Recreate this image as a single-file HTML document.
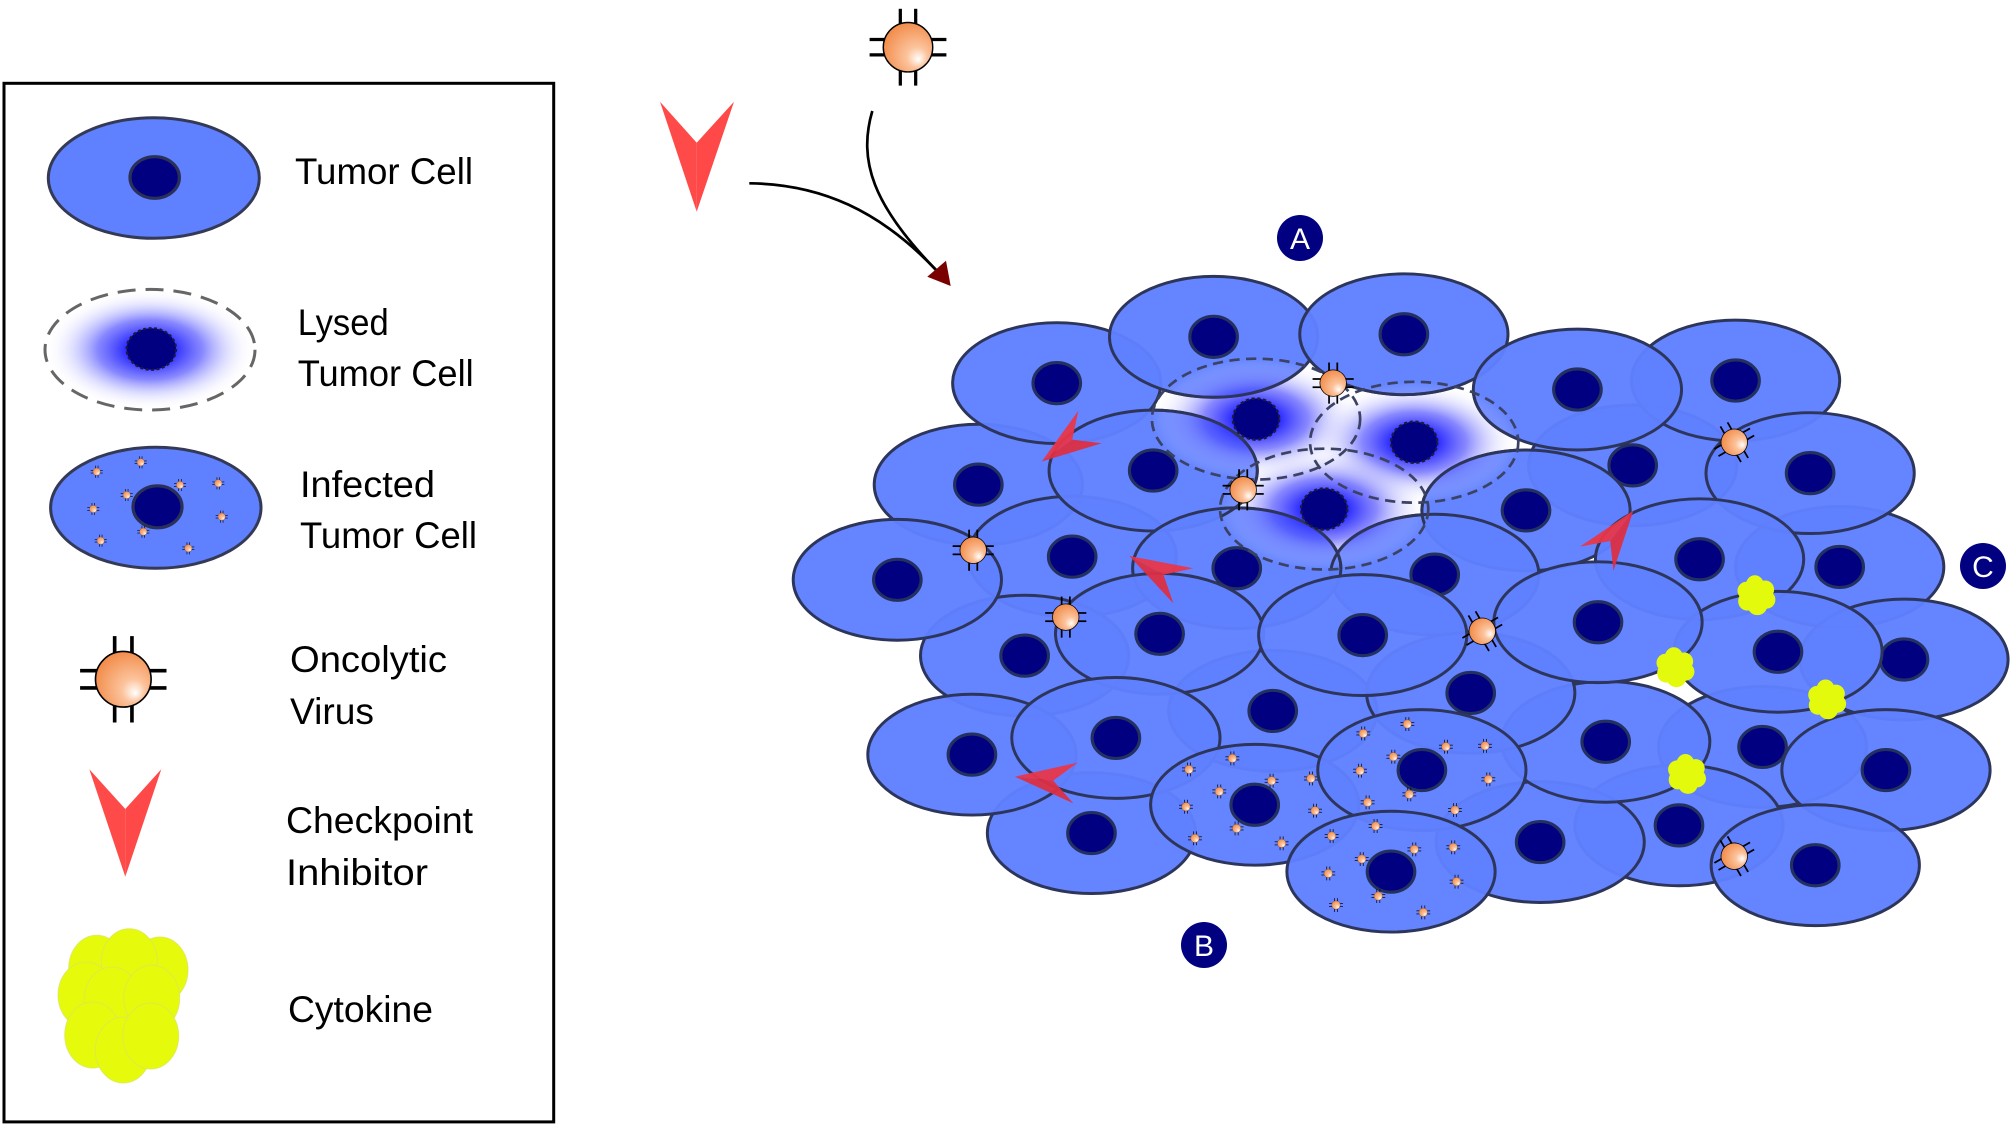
<!DOCTYPE html>
<html>
<head>
<meta charset="utf-8">
<style>
html,body{margin:0;padding:0;background:#fff}
svg{display:block}
.t{font-family:"Liberation Sans",Arial,sans-serif;font-size:37px;fill:#000}
.lbl{font-family:"Liberation Sans",Arial,sans-serif;font-size:30px;fill:#fff;text-anchor:middle}
.c{fill:#5f80ff;fill-opacity:.965;stroke:#2d355a;stroke-width:2.3}
.n{fill:#000080;stroke:#24305e;stroke-width:2.4}
.o{fill:none;stroke:#2d355a;stroke-width:2.3}
.ld{fill:none;stroke:#3b4263;stroke-width:2.1;stroke-dasharray:8 5}
.ln{fill:#000080;stroke:#1a1a40;stroke-width:1.8;stroke-dasharray:2.5 2}
.r1{fill:#e8364a;fill-opacity:.95}
.r2{fill:#dc2e43;fill-opacity:.95}
</style>
</head>
<body>
<svg width="2012" height="1133" viewBox="0 0 2012 1133" xmlns="http://www.w3.org/2000/svg">
<defs>
  <radialGradient id="vg" cx="0.6" cy="0.6" r="0.7" fx="0.72" fy="0.75">
    <stop offset="0" stop-color="#ffffff"/>
    <stop offset="0.3" stop-color="#fcc39c"/>
    <stop offset="1" stop-color="#f0843e"/>
  </radialGradient>
  <radialGradient id="lg">
    <stop offset="0" stop-color="#1212ff" stop-opacity="1"/>
    <stop offset="0.22" stop-color="#1f1fff" stop-opacity="0.95"/>
    <stop offset="0.5" stop-color="#5050ff" stop-opacity="0.68"/>
    <stop offset="0.75" stop-color="#a0a0ff" stop-opacity="0.3"/>
    <stop offset="1" stop-color="#ffffff" stop-opacity="0"/>
  </radialGradient>
  <g id="v">
    <g stroke="#000" stroke-width="1.35">
      <line x1="-3.2" y1="-8" x2="-3.2" y2="-16"/>
      <line x1="3.2" y1="-8" x2="3.2" y2="-16"/>
      <line x1="-3.2" y1="8" x2="-3.2" y2="16"/>
      <line x1="3.2" y1="8" x2="3.2" y2="16"/>
      <line x1="-8" y1="-3.2" x2="-16" y2="-3.2"/>
      <line x1="-8" y1="3.2" x2="-16" y2="3.2"/>
      <line x1="8" y1="-3.2" x2="16" y2="-3.2"/>
      <line x1="8" y1="3.2" x2="16" y2="3.2"/>
    </g>
    <circle r="10.3" fill="url(#vg)" stroke="#000" stroke-width="0.6"/>
  </g>
  <g id="sv">
    <g stroke="#000" stroke-width="0.55">
      <line x1="-1.2" y1="-2.5" x2="-1.2" y2="-5.4"/>
      <line x1="1.2" y1="-2.5" x2="1.2" y2="-5.4"/>
      <line x1="-1.2" y1="2.5" x2="-1.2" y2="5.4"/>
      <line x1="1.2" y1="2.5" x2="1.2" y2="5.4"/>
      <line x1="-2.5" y1="-1.2" x2="-5.4" y2="-1.2"/>
      <line x1="-2.5" y1="1.2" x2="-5.4" y2="1.2"/>
      <line x1="2.5" y1="-1.2" x2="5.4" y2="-1.2"/>
      <line x1="2.5" y1="1.2" x2="5.4" y2="1.2"/>
    </g>
    <circle r="3.3" fill="url(#vg)" stroke="#7a4a2a" stroke-width="0.3"/>
  </g>
  <g id="cy" fill="#e4fa0c">
    <ellipse cx="0" cy="0" rx="8" ry="8"/>
    <ellipse cx="-1" cy="-8" rx="7" ry="7.5"/>
    <ellipse cx="7" cy="-4.5" rx="7" ry="7"/>
    <ellipse cx="8" cy="3.5" rx="7" ry="7"/>
    <ellipse cx="1" cy="8.5" rx="7.5" ry="7"/>
    <ellipse cx="-7" cy="4.5" rx="7" ry="7.5"/>
    <ellipse cx="-7.5" cy="-3.5" rx="7" ry="7"/>
  </g>
  <clipPath id="lc">
    <ellipse cx="977" cy="326" rx="81" ry="47"/>
    <ellipse cx="1100" cy="344" rx="81" ry="47"/>
    <ellipse cx="1030" cy="396" rx="81" ry="47"/>
  </clipPath>
</defs>

<!-- Legend box -->
<rect x="4" y="83.3" width="549.7" height="1038.6" fill="none" stroke="#000" stroke-width="3"/>

<!-- Legend: tumor cell -->
<ellipse cx="153.8" cy="178" rx="105.5" ry="60.3" fill="#5f80ff" stroke="#343a55" stroke-width="3"/>
<ellipse cx="154.7" cy="177.5" rx="24.7" ry="20.8" fill="#000080" stroke="#2a3058" stroke-width="3.2"/>
<text class="t" x="295" y="184" textLength="178" lengthAdjust="spacingAndGlyphs">Tumor Cell</text>

<!-- Legend: lysed -->
<ellipse cx="150" cy="349.7" rx="105" ry="60.3" fill="url(#lg)"/>
<ellipse cx="150" cy="349.7" rx="105" ry="60.3" fill="none" stroke="#666" stroke-width="3" stroke-dasharray="18 10"/>
<ellipse cx="151.3" cy="349" rx="24.7" ry="20.8" fill="#000080" stroke="#1a1a40" stroke-width="2.2" stroke-dasharray="3 2.5"/>
<text class="t" x="297.7" y="335" textLength="91" lengthAdjust="spacingAndGlyphs">Lysed</text>
<text class="t" x="297.7" y="386" textLength="176" lengthAdjust="spacingAndGlyphs">Tumor Cell</text>

<!-- Legend: infected -->
<ellipse cx="155.8" cy="507.8" rx="105.2" ry="60.5" fill="#5f80ff" stroke="#343a55" stroke-width="3"/>
<ellipse cx="157.5" cy="506.8" rx="24.5" ry="21" fill="#000080" stroke="#2a3058" stroke-width="3.2"/>
<use href="#sv" transform="translate(96.7,471.7) scale(1.12)"/>
<use href="#sv" transform="translate(140.7,462.3) scale(1.12)"/>
<use href="#sv" transform="translate(180,485) scale(1.12)"/>
<use href="#sv" transform="translate(218.3,483.3) scale(1.12)"/>
<use href="#sv" transform="translate(126.7,495) scale(1.12)"/>
<use href="#sv" transform="translate(93.3,509) scale(1.12)"/>
<use href="#sv" transform="translate(221.7,516.7) scale(1.12)"/>
<use href="#sv" transform="translate(143.3,531.7) scale(1.12)"/>
<use href="#sv" transform="translate(100.7,540.7) scale(1.12)"/>
<use href="#sv" transform="translate(188.3,548.3) scale(1.12)"/>
<text class="t" x="300" y="497" textLength="135" lengthAdjust="spacingAndGlyphs">Infected</text>
<text class="t" x="300" y="548" textLength="177" lengthAdjust="spacingAndGlyphs">Tumor Cell</text>

<!-- Legend: virus -->
<use href="#v" transform="translate(123.3,679.3) scale(2.7)"/>
<text class="t" x="290" y="672" textLength="157" lengthAdjust="spacingAndGlyphs">Oncolytic</text>
<text class="t" x="290" y="724" textLength="84" lengthAdjust="spacingAndGlyphs">Virus</text>

<!-- Legend: checkpoint inhibitor -->
<polygon points="89.3,769.3 125.3,809 125.3,876.7" fill="#ff4a4a"/>
<polygon points="161.3,769.3 125.3,809 125.3,876.7" fill="#ff4848"/>
<text class="t" x="286" y="833" textLength="187" lengthAdjust="spacingAndGlyphs">Checkpoint</text>
<text class="t" x="286" y="885" textLength="142" lengthAdjust="spacingAndGlyphs">Inhibitor</text>

<!-- Legend: cytokine -->
<g fill="#e6fb0b" stroke="#d9e35e" stroke-width="1" stroke-opacity="0.7">
  <ellipse cx="96.7" cy="968.3" rx="28" ry="33"/>
  <ellipse cx="160" cy="970" rx="28" ry="33"/>
  <ellipse cx="129.3" cy="961.7" rx="28" ry="33"/>
  <ellipse cx="86" cy="995" rx="28" ry="33"/>
  <ellipse cx="112" cy="1000" rx="28" ry="33"/>
  <ellipse cx="151.7" cy="998.3" rx="28" ry="33"/>
  <ellipse cx="92.7" cy="1035" rx="28" ry="33"/>
  <ellipse cx="123.3" cy="1050" rx="28" ry="33"/>
  <ellipse cx="150.7" cy="1036" rx="28" ry="33"/>
</g>
<text class="t" x="288" y="1022" textLength="145" lengthAdjust="spacingAndGlyphs">Cytokine</text>

<!-- Top items -->
<polygon points="660,101.7 696.7,142.7 696.7,211.7" fill="#ff4a4a"/>
<polygon points="734,101.7 696.7,142.7 696.7,211.7" fill="#ff4848"/>
<use href="#v" transform="translate(908,47.2) scale(2.4)"/>
<path d="M749.3,183.3 C820,184 880,210 938,272" fill="none" stroke="#000" stroke-width="2.7"/>
<path d="M872.3,111 C858,160 872,205 938,272" fill="none" stroke="#000" stroke-width="2.7"/>
<polygon points="927.3,276.7 946,260.7 950.7,286" fill="#7a0000"/>

<!-- Cluster -->
<g transform="scale(1.2856)">
  <!-- back cells -->
  <ellipse class="c" cx="1270" cy="362" rx="81" ry="47"/><ellipse class="n" cx="1270" cy="362" rx="18.5" ry="16"/>
  <ellipse class="c" cx="1431" cy="441" rx="81" ry="47"/><ellipse class="n" cx="1431" cy="441" rx="18.5" ry="16"/>
  <ellipse class="c" cx="1350" cy="296" rx="81" ry="47"/><ellipse class="n" cx="1350" cy="296" rx="18.5" ry="16"/>
  <ellipse class="c" cx="761" cy="377" rx="81" ry="47"/><ellipse class="n" cx="761" cy="377" rx="18.5" ry="16"/>
  <ellipse class="c" cx="834" cy="433" rx="81" ry="47"/><ellipse class="n" cx="834" cy="433" rx="18.5" ry="16"/>
  <ellipse class="c" cx="990" cy="553" rx="81" ry="47"/><ellipse class="n" cx="990" cy="553" rx="18.5" ry="16"/>
  <ellipse class="c" cx="1371" cy="581" rx="81" ry="47"/><ellipse class="n" cx="1371" cy="581" rx="18.5" ry="16"/>
  <ellipse class="c" cx="1306" cy="642" rx="81" ry="47"/><ellipse class="n" cx="1306" cy="642" rx="18.5" ry="16"/>
  <ellipse class="c" cx="849" cy="648" rx="81" ry="47"/><ellipse class="n" cx="849" cy="648" rx="18.5" ry="16"/>
  <ellipse class="c" cx="1198" cy="655" rx="81" ry="47"/><ellipse class="n" cx="1198" cy="655" rx="18.5" ry="16"/>
  <ellipse class="c" cx="1481" cy="513" rx="81" ry="47"/><ellipse class="n" cx="1481" cy="513" rx="18.5" ry="16"/>
  <!-- middle/front cells -->
  <ellipse class="c" cx="822" cy="298" rx="81" ry="47"/><ellipse class="n" cx="822" cy="298" rx="18.5" ry="16"/>
  <ellipse class="c" cx="944" cy="262" rx="81" ry="47"/><ellipse class="n" cx="944" cy="262" rx="18.5" ry="16"/>
  <ellipse class="c" cx="1092" cy="260" rx="81" ry="47"/><ellipse class="n" cx="1092" cy="260" rx="18.5" ry="16"/>
  <ellipse class="c" cx="1227" cy="303" rx="81" ry="47"/><ellipse class="n" cx="1227" cy="303" rx="18.5" ry="16"/>
  <ellipse class="c" cx="1408" cy="368" rx="81" ry="47"/><ellipse class="n" cx="1408" cy="368" rx="18.5" ry="16"/>
  <ellipse class="c" cx="897" cy="366" rx="81" ry="47"/><ellipse class="n" cx="897" cy="366" rx="18.5" ry="16"/>
  <ellipse class="c" cx="1187" cy="397" rx="81" ry="47"/><ellipse class="n" cx="1187" cy="397" rx="18.5" ry="16"/>
  <ellipse class="c" cx="1116" cy="447" rx="81" ry="47"/><ellipse class="n" cx="1116" cy="447" rx="18.5" ry="16"/>
  <ellipse class="c" cx="962" cy="442" rx="81" ry="47"/><ellipse class="n" cx="962" cy="442" rx="18.5" ry="16"/>
  <ellipse class="c" cx="1322" cy="435" rx="81" ry="47"/><ellipse class="n" cx="1322" cy="435" rx="18.5" ry="16"/>
  <ellipse class="c" cx="797" cy="510" rx="81" ry="47"/><ellipse class="n" cx="797" cy="510" rx="18.5" ry="16"/>
  <ellipse class="c" cx="698" cy="451" rx="81" ry="47"/><ellipse class="n" cx="698" cy="451" rx="18.5" ry="16"/>
  <ellipse class="c" cx="902" cy="493" rx="81" ry="47"/><ellipse class="n" cx="902" cy="493" rx="18.5" ry="16"/>
  <ellipse class="c" cx="1383" cy="507" rx="81" ry="47"/><ellipse class="n" cx="1383" cy="507" rx="18.5" ry="16"/>
  <ellipse class="c" cx="1249" cy="577" rx="81" ry="47"/><ellipse class="n" cx="1249" cy="577" rx="18.5" ry="16"/>
  <ellipse class="c" cx="1144" cy="539" rx="81" ry="47"/><ellipse class="n" cx="1144" cy="539" rx="18.5" ry="16"/>
  <ellipse class="c" cx="1243" cy="484" rx="81" ry="47"/><ellipse class="n" cx="1243" cy="484" rx="18.5" ry="16"/>
  <ellipse class="c" cx="1060" cy="494" rx="81" ry="47"/><ellipse class="n" cx="1060" cy="494" rx="18.5" ry="16"/>
  <ellipse class="c" cx="1467" cy="599" rx="81" ry="47"/><ellipse class="n" cx="1467" cy="599" rx="18.5" ry="16"/>
  <ellipse class="c" cx="756" cy="587" rx="81" ry="47"/><ellipse class="n" cx="756" cy="587" rx="18.5" ry="16"/>
  <ellipse class="c" cx="868" cy="574" rx="81" ry="47"/><ellipse class="n" cx="868" cy="574" rx="18.5" ry="16"/>
  <!-- infected cell 31 -->
  <ellipse class="c" cx="976" cy="626" rx="81" ry="47"/><ellipse class="n" cx="976" cy="626" rx="18.5" ry="16"/>
  <use href="#sv" transform="translate(924.8,598.5)"/>
  <use href="#sv" transform="translate(958.6,589.9)"/>
  <use href="#sv" transform="translate(989.1,607.3)"/>
  <use href="#sv" transform="translate(1019.7,605.5)"/>
  <use href="#sv" transform="translate(948.4,615.6)"/>
  <use href="#sv" transform="translate(1022.9,630.6)"/>
  <use href="#sv" transform="translate(922.5,627.5)"/>
  <use href="#sv" transform="translate(961.9,644.4)"/>
  <use href="#sv" transform="translate(996.9,656)"/>
  <use href="#sv" transform="translate(929.5,652.1)"/>
  <!-- infected cell 32 -->
  <ellipse class="c" cx="1106" cy="599" rx="81" ry="47"/><ellipse class="n" cx="1106" cy="599" rx="18.5" ry="16"/>
  <use href="#sv" transform="translate(1094.7,563.2)"/>
  <use href="#sv" transform="translate(1060.4,570.5)"/>
  <use href="#sv" transform="translate(1124.7,580.8)"/>
  <use href="#sv" transform="translate(1155.1,580.1)"/>
  <use href="#sv" transform="translate(1083.8,588.6)"/>
  <use href="#sv" transform="translate(1057.9,599.5)"/>
  <use href="#sv" transform="translate(1157.7,606.2)"/>
  <use href="#sv" transform="translate(1096.2,617.9)"/>
  <use href="#sv" transform="translate(1063.8,624.1)"/>
  <use href="#sv" transform="translate(1131.7,630.1)"/>
  <!-- infected cell 36 -->
  <ellipse class="c" cx="1082" cy="678" rx="81" ry="47"/><ellipse class="n" cx="1082" cy="678" rx="18.5" ry="16"/>
  <use href="#sv" transform="translate(1070,642.5)"/>
  <use href="#sv" transform="translate(1035.8,650.3)"/>
  <use href="#sv" transform="translate(1100.1,660.7)"/>
  <use href="#sv" transform="translate(1130.4,659.1)"/>
  <use href="#sv" transform="translate(1059.2,668.2)"/>
  <use href="#sv" transform="translate(1033.2,679.4)"/>
  <use href="#sv" transform="translate(1133,685.8)"/>
  <use href="#sv" transform="translate(1072.1,697)"/>
  <use href="#sv" transform="translate(1039.2,704)"/>
  <use href="#sv" transform="translate(1107.1,709.7)"/>
  <!-- cell 35 -->
  <ellipse class="c" cx="1412" cy="673" rx="81" ry="47"/><ellipse class="n" cx="1412" cy="673" rx="18.5" ry="16"/>

  <!-- Lysed cells -->
  <ellipse cx="977" cy="326" rx="81" ry="47" fill="url(#lg)"/>
  <ellipse cx="1100" cy="344" rx="81" ry="47" fill="url(#lg)"/>
  <ellipse cx="1030" cy="396" rx="81" ry="47" fill="url(#lg)"/>
  <g clip-path="url(#lc)">
    <ellipse class="o" cx="944" cy="262" rx="81" ry="47"/>
    <ellipse class="o" cx="1092" cy="260" rx="81" ry="47"/>
    <ellipse class="o" cx="1227" cy="303" rx="81" ry="47"/>
    <ellipse class="o" cx="897" cy="366" rx="81" ry="47"/>
    <ellipse class="o" cx="1187" cy="397" rx="81" ry="47"/>
    <ellipse class="o" cx="1116" cy="447" rx="81" ry="47"/>
    <ellipse class="o" cx="962" cy="442" rx="81" ry="47"/>
  </g>
  <ellipse class="ld" cx="977" cy="326" rx="81" ry="47"/>
  <ellipse class="ld" cx="1100" cy="344" rx="81" ry="47"/>
  <ellipse class="ld" cx="1030" cy="396" rx="81" ry="47"/>
  <ellipse class="ln" cx="977" cy="326" rx="18" ry="16"/>
  <ellipse class="ln" cx="1100" cy="344" rx="18" ry="16"/>
  <ellipse class="ln" cx="1030" cy="396" rx="18" ry="16"/>

  <!-- Checkpoint inhibitors -->
  <polygon class="r1" points="810.3,359 838.8,319.5 834,342"/>
  <polygon class="r2" points="810.3,359 834,342 857,344.8"/>
  <polygon class="r1" points="878.5,432.5 928.2,442 905,447.1"/>
  <polygon class="r2" points="878.5,432.5 905,447.1 912.7,469.3"/>
  <polygon class="r1" points="789.5,604.1 838.3,593.2 819.2,607.2"/>
  <polygon class="r2" points="789.5,604.1 819.2,607.2 834.9,624.9"/>
  <polygon class="r1" points="1270.5,397.2 1229,425.2 1252.5,420.8"/>
  <polygon class="r2" points="1270.5,397.2 1252.5,420.8 1255,444"/>

  <!-- Viruses -->
  <use href="#v" transform="translate(1037,298)"/>
  <use href="#v" transform="translate(967,381)"/>
  <use href="#v" transform="translate(757,428)"/>
  <use href="#v" transform="translate(829,480)"/>
  <use href="#v" transform="translate(1153,491) rotate(-30)"/>
  <use href="#v" transform="translate(1349,344) rotate(-30)"/>
  <use href="#v" transform="translate(1349,666) rotate(-30)"/>

  <!-- Cytokines -->
  <use href="#cy" transform="translate(1366,463)"/>
  <use href="#cy" transform="translate(1303,519)"/>
  <use href="#cy" transform="translate(1421,544)"/>
  <use href="#cy" transform="translate(1312,602)"/>
</g>

<!-- A B C markers -->
<circle cx="1300" cy="238" r="23" fill="#000080"/>
<text class="lbl" x="1300" y="249">A</text>
<circle cx="1204" cy="945" r="23" fill="#000080"/>
<text class="lbl" x="1204" y="956">B</text>
<circle cx="1983" cy="566" r="23" fill="#000080"/>
<text class="lbl" x="1983" y="577">C</text>
</svg>
</body>
</html>
